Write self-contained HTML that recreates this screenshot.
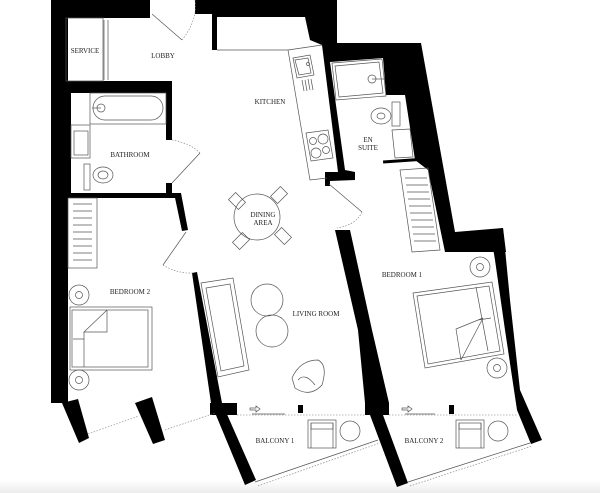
<!DOCTYPE html>
<html><head><meta charset="utf-8"><style>
html,body{margin:0;padding:0;background:#fff;}
svg{display:block;}
text{font-family:"Liberation Serif",serif;font-size:7px;fill:#222;text-anchor:middle;}
.f{fill:none;stroke:#555;stroke-width:0.7;}
.d{fill:none;stroke:#777;stroke-width:0.6;stroke-dasharray:1.5 1.5;}
</style></head><body>
<svg width="600" height="493" viewBox="0 0 600 493" xmlns="http://www.w3.org/2000/svg">
<defs><linearGradient id="g" x1="0" y1="0" x2="0" y2="1"><stop offset="0" stop-color="#fff"/><stop offset="1" stop-color="#ececec"/></linearGradient></defs>
<rect x="0" y="480" width="600" height="13" fill="url(#g)"/>
<g fill="#000">
<rect x="51" y="0" width="17" height="403"/>
<rect x="51" y="0" width="99" height="18"/>
<rect x="51" y="81" width="121" height="12"/>
<rect x="51" y="81" width="20" height="115"/>
<rect x="166" y="85" width="6" height="55"/>
<rect x="166" y="183" width="6" height="12"/>
<rect x="68" y="193" width="112" height="5"/>
<polygon points="174,193 181,193 188,230 182,231"/>
<polygon points="195,0 337,0 337,43 421,43 455,232 503,228 506,252 445,252 428,170 415,160 405,95 386,95 383,58 330,62 345,170 355,172 355,180 330,181 330,186 325,186 325,172 338,172 322,45 310,40 305,17 217,17 217,50 212,50 212,14 195,14"/>
<rect x="383" y="159" width="45" height="3" transform="rotate(-4 405 160)"/>
<polygon points="192,273 197,272 222,403 256,480 245,485 211,403"/>
<rect x="210" y="403" width="27" height="12"/>
<polygon points="335,230 350,230 372,330 389,403 389,415 383,415 408,483 397,487 370,415 365,415 365,403 358,330"/>
<polygon points="490,230 503,228 510,300 520,390 542,440 531,444 517,410 505,330 495,260"/>
<polygon points="62,403 78,399 89,438 79,443"/>
<polygon points="135,403 152,397 165,440 153,444"/>
<rect x="298" y="405" width="5" height="8"/>
<rect x="449" y="405" width="5" height="9"/>
</g>
<path class="d" d="M88,434 L139,416 M165,430 L215,413 M237,415 L365,415 M389,415 L517,415 M258,486 L380,443 M410,486 L532,446"/>
<path class="f" d="M255,482 L378,440 M408,482 L530,443 M252,414 L285,414 M405,414 L435,414"/>
<path class="f" d="M250,408 h6 v-2 l4,3 l-4,3 v-2 h-6z M402,408 h6 v-2 l4,3 l-4,3 v-2 h-6z"/>
<path class="f" d="M104,20 V80 M108,20 V80 M66,18 H103 V81 H66 Z"/>
<path class="f" d="M152,14 L182,40"/><path class="d" d="M182,40 Q198,20 195,0"/>
<path class="f" d="M217,50 L288,50 L310,180 L327,178 M322,45 L288,50"/>
<path class="f" d="M293,58 L310,55 L314,75 L297,78 Z M295,60 L308,58 L311,73 L299,75 Z"/>
<circle class="f" cx="308" cy="64" r="1.5"/>
<path class="f" d="M302,80 l2,11 M305,80 l2,11 M308,79 l2,11 M311,79 l2,11"/>
<path class="f" d="M306,133 L328,130 L333,158 L311,161 Z"/>
<circle class="f" cx="313" cy="141" r="3.5"/><circle class="f" cx="323" cy="139" r="5"/>
<circle class="f" cx="316" cy="153" r="5"/><circle class="f" cx="326" cy="150" r="3.5"/>
<path class="f" d="M329,184 L362,212"/><path class="d" d="M362,212 Q356,225 337,228"/>
<rect class="f" x="90" y="93" width="76" height="31"/>
<rect class="f" x="93" y="96" width="70" height="24" rx="12"/>
<circle class="f" cx="101" cy="108" r="4"/><path class="f" d="M92,108 H101"/>
<rect class="f" x="71" y="125" width="19" height="33"/><rect class="f" x="74" y="131" width="14" height="24"/>
<rect class="f" x="84" y="164" width="6" height="26"/>
<ellipse class="f" cx="103" cy="175" rx="10" ry="8"/><ellipse class="f" cx="103" cy="175" rx="5" ry="4"/>
<path class="f" d="M172,183 L200,153"/><path class="d" d="M200,153 Q190,143 172,140"/>
<rect class="f" x="68" y="198" width="29" height="70"/>
<path class="f" d="M73,204h19M73,211h19M73,218h19M73,225h19M73,232h19M73,239h19M73,246h19M73,253h19M73,260h19"/>
<path class="f" d="M186,232 L163,265"/><path class="d" d="M163,265 Q178,274 193,273"/>
<circle class="f" cx="79" cy="295" r="10"/><circle class="f" cx="79" cy="295" r="3.5"/>
<circle class="f" cx="79" cy="380" r="10"/><circle class="f" cx="79" cy="380" r="3.5"/>
<rect class="f" x="70" y="307" width="82" height="63"/><rect class="f" x="72" y="310" width="76" height="57"/>
<path class="f" d="M107,310 V332 H84 L107,310 M84,332 V367 M73,339 H84"/>
<circle class="f" cx="257" cy="217" r="23"/>
<g class="f">
<rect x="-7" y="-5" width="14" height="10" transform="translate(237,201) rotate(45)"/>
<rect x="-7" y="-5" width="14" height="10" transform="translate(279,195) rotate(-45)"/>
<rect x="-7" y="-5" width="14" height="10" transform="translate(283,236) rotate(45)"/>
<rect x="-7" y="-5" width="14" height="10" transform="translate(241,241) rotate(-45)"/>
</g>
<polygon class="f" points="201,283 233,278 249,370 218,377"/>
<polygon class="f" points="206,288 230,284 244,366 221,371"/>
<circle class="f" cx="267" cy="300" r="16"/><circle class="f" cx="272" cy="331" r="16"/>
<path class="f" d="M292,378 Q300,360 318,360 Q328,365 322,385 Q310,398 295,388 Z M298,380 Q305,372 315,385"/>
<g class="f">
<rect x="308" y="420" width="28" height="28"/><rect x="311" y="423" width="22" height="6"/><path d="M311,423 V448 M333,423 V448"/>
<circle cx="350" cy="431" r="10"/>
<rect x="456" y="420" width="28" height="28"/><rect x="459" y="423" width="22" height="6"/><path d="M459,423 V448 M481,423 V448"/>
<circle cx="498" cy="431" r="10"/>
</g>
<polygon class="f" points="332,63 382,59 386,96 336,100"/>
<polygon class="f" points="335,66 379,62 383,93 339,97"/>
<circle class="f" cx="372" cy="79" r="4"/><path class="f" d="M372,79 H385"/>
<rect class="f" x="392" y="102" width="8" height="24"/>
<ellipse class="f" cx="381" cy="116" rx="10" ry="8"/><ellipse class="f" cx="381" cy="116" rx="4" ry="3"/>
<polygon class="f" points="392,130 410,129 413,157 395,158"/>
<polygon class="f" points="400,170 428,168 440,250 412,252"/>
<path class="f" d="M405,178h22M406,185h22M407,192h22M408,199h22M409,206h22M410,213h22M411,220h22M412,227h22M413,234h22M414,241h22"/>
<circle class="f" cx="480" cy="267" r="10"/><circle class="f" cx="480" cy="267" r="3.5"/>
<circle class="f" cx="497" cy="368" r="10"/><circle class="f" cx="497" cy="368" r="3.5"/>
<polygon class="f" points="413,293 492,282 504,354 425,368"/>
<polygon class="f" points="417,296 489,286 500,351 428,364"/>
<path class="f" d="M476,287 L488,351 M478,320 L491,318 M483,318 L461,360 M483,318 L456,329 L461,360"/>
<text x="85" y="53">SERVICE</text>
<text x="163" y="58">LOBBY</text>
<text x="270" y="104">KITCHEN</text>
<text x="130" y="157">BATHROOM</text>
<text x="263" y="217">DINING</text><text x="263" y="225">AREA</text>
<text x="368" y="142">EN</text><text x="368" y="150">SUITE</text>
<text x="130" y="294">BEDROOM 2</text>
<text x="316" y="316">LIVING ROOM</text>
<text x="402" y="277">BEDROOM 1</text>
<text x="275" y="443">BALCONY 1</text>
<text x="424" y="443">BALCONY 2</text>
</svg>
</body></html>
